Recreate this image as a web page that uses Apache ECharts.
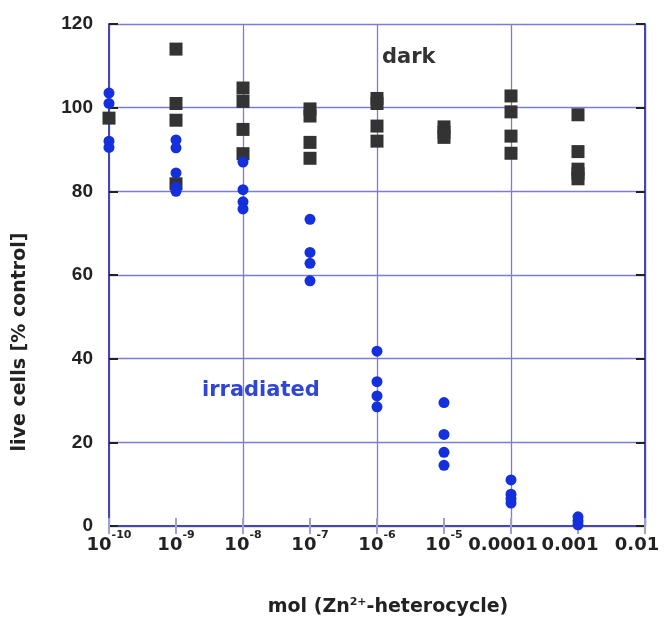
<!DOCTYPE html>
<html>
<head>
<meta charset="utf-8">
<script src="https://cdn.jsdelivr.net/npm/echarts@6/dist/echarts.min.js"></script>
<style>
html,body{margin:0;padding:0;background:#fff;}
#chart{width:671px;height:621px;}
</style>
</head>
<body>
<div id="chart"></div>
<script>
// concentrations (mol)
const concentrations = [1e-10, 1e-9, 1e-8, 1e-7, 1e-6, 1e-5, 1e-4, 1e-3];
// live cells [% control], dark (squares)
const darkValues = [
  [97.5],
  [114, 101, 97, 81.8],
  [104.7, 101.5, 94.8, 89],
  [99.7, 98, 91.7, 87.9],
  [102.2, 101, 95.6, 92],
  [95.4, 94.1, 92.9],
  [102.8, 99, 93.2, 89.1],
  [98.3, 89.5, 85.3, 84.2, 83]
];
// live cells [% control], irradiated (circles)
const irradiatedValues = [
  [103.5, 101, 92, 90.5],
  [92.3, 90.4, 84.4, 81, 80],
  [87, 80.4, 77.5, 75.8],
  [73.3, 65.4, 62.8, 58.6],
  [41.8, 34.5, 31.1, 28.5],
  [29.5, 21.9, 17.6, 14.5],
  [11, 7.6, 6.5, 5.5],
  [2.2, 1.2, 0.3]
];
const yTicks = [0, 20, 40, 60, 80, 100, 120];
const xMin = 1e-10, xMax = 1e-2;

function flatten(groups) {
  const out = [];
  groups.forEach((vals, i) => vals.forEach(v => out.push([concentrations[i], v])));
  return out;
}

const FONT = '"Liberation Sans", Arial, sans-serif';
const WIDE = '"DejaVu Sans", Verdana, sans-serif';
const GRID_COLOR = '#7b7bd8';
const AXIS_COLOR = '#4646b4';

function xLabel(v) {
  const e = Math.round(Math.log10(v));
  if (e >= -4) {
    return '{d|' + (Math.pow(10, e)).toFixed(-e) + '}';
  }
  return '{b|10}{s|' + e + '}';
}

const chart = echarts.init(document.getElementById('chart'), null, {renderer: 'canvas'});
chart.setOption({
  animation: false,
  backgroundColor: '#ffffff',
  grid: {left: 109, right: 26, top: 24, bottom: 95, containLabel: false, outerBoundsMode: 'none'},
  xAxis: [
    {
      type: 'log', logBase: 10, min: xMin, max: xMax, interval: 1, position: 'bottom',
      axisLine: {show: true, lineStyle: {color: AXIS_COLOR, width: 2}},
      axisTick: {show: true, inside: true, length: 8, lineStyle: {color: '#a0a0d0', width: 2}},
      splitLine: {show: false},
      axisLabel: {
        show: true, margin: 4, formatter: xLabel, hideOverlap: false,
        rich: {
          b: {fontFamily: WIDE, fontSize: 18, color: '#222', fontWeight: 'bold', lineHeight: 24, verticalAlign: 'bottom'},
          d: {fontFamily: WIDE, fontSize: 18, color: '#222', fontWeight: 'bold', lineHeight: 24, verticalAlign: 'bottom', padding: [0, 16, 0, 0]},
          s: {fontFamily: WIDE, fontSize: 11, color: '#222', fontWeight: 'bold', lineHeight: 24, verticalAlign: 'top', padding: [0, 0, 10, 0]}
        }
      }
    },
    {
      type: 'log', logBase: 10, min: xMin, max: xMax, interval: 1, position: 'top',
      axisLine: {show: true, lineStyle: {color: AXIS_COLOR, width: 2}},
      axisTick: {show: true, inside: true, length: 8, lineStyle: {color: '#a0a0d0', width: 2}},
      splitLine: {show: false},
      axisLabel: {show: false}
    },
    {
      type: 'log', logBase: 10, min: xMin, max: xMax, interval: 2, position: 'bottom',
      axisLine: {show: false}, axisTick: {show: false}, axisLabel: {show: false},
      splitLine: {show: true, lineStyle: {color: GRID_COLOR, width: 1.3}}
    }
  ],
  yAxis: [
    {
      type: 'value', min: yTicks[0], max: yTicks[yTicks.length - 1], interval: 20, position: 'left',
      axisLine: {show: true, lineStyle: {color: AXIS_COLOR, width: 2}},
      axisTick: {show: true, inside: true, length: 9, lineStyle: {color: '#222', width: 2}},
      splitLine: {show: true, lineStyle: {color: GRID_COLOR, width: 1.3}},
      axisLabel: {show: true, margin: 16, fontFamily: FONT, fontSize: 19, fontWeight: 'bold', color: '#222'}
    },
    {
      type: 'value', min: yTicks[0], max: yTicks[yTicks.length - 1], interval: 20, position: 'right',
      axisLine: {show: true, lineStyle: {color: AXIS_COLOR, width: 2}},
      axisTick: {show: true, inside: true, length: 9, lineStyle: {color: '#222', width: 2}},
      splitLine: {show: false},
      axisLabel: {show: false}
    }
  ],
  series: [
    {
      name: 'dark', type: 'scatter', xAxisIndex: 0, yAxisIndex: 0,
      symbol: 'rect', symbolSize: 13,
      itemStyle: {color: '#333333', opacity: 1},
      data: flatten(darkValues), z: 3
    },
    {
      name: 'irradiated', type: 'scatter', xAxisIndex: 0, yAxisIndex: 0,
      symbol: 'circle', symbolSize: 11,
      itemStyle: {color: '#1430dc', opacity: 1},
      data: flatten(irradiatedValues), z: 4
    }
  ],
  graphic: [
    {type: 'text', left: 382, top: 47, style: {text: 'dark', fontFamily: WIDE, fontSize: 21, fontWeight: 'bold', fill: '#333'}},
    {type: 'text', left: 202, top: 380, style: {text: 'irradiated', fontFamily: WIDE, fontSize: 21, fontWeight: 'bold', fill: '#2f45d4'}},
    {type: 'text', x: 20, y: 342, rotation: Math.PI / 2,
      style: {text: 'live cells [% control]', fontFamily: WIDE, fontSize: 19, fontWeight: 'bold', fill: '#222', align: 'center', verticalAlign: 'middle'}},
    {type: 'text', x: 388, y: 607,
      style: {text: 'mol (Zn{sup|2+}-heterocycle)', fontFamily: WIDE, fontSize: 19, fontWeight: 'bold', fill: '#222', align: 'center', verticalAlign: 'middle',
        rich: {sup: {fontSize: 11, fontWeight: 'bold', fill: '#222', padding: [0, 0, 10, 0], fontFamily: WIDE}}}}
  ]
});
</script>
</body>
</html>
